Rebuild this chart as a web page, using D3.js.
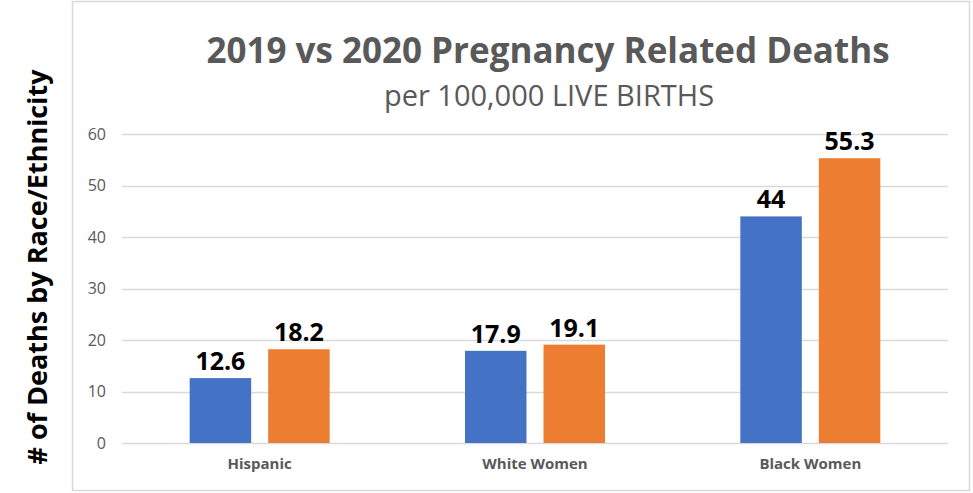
<!DOCTYPE html>
<html>
<head>
<meta charset="utf-8">
<script src="https://d3js.org/d3.v7.min.js"></script>
<style>
  body { margin: 0; background: #fff; }
  svg { display: block; font-family: "Open Sans", sans-serif; }
</style>
</head>
<body>
<div id="chart"></div>
<script>
var categories = ["Hispanic", "White Women", "Black Women"];
var seriesNames = ["2019", "2020"];
var values2019 = [12.6, 17.9, 44];
var values2020 = [18.2, 19.1, 55.3];
var yTicks = [0, 10, 20, 30, 40, 50, 60];
var colors = ["#4472c4", "#ed7d31"];

var width = 973, height = 493;
var plot = { left: 122, right: 948, top: 134, bottom: 443 };

var svg = d3.select("#chart").append("svg")
  .attr("width", width)
  .attr("height", height);

// chart border
svg.append("rect")
  .attr("x", 72.5).attr("y", 1.5)
  .attr("width", 897).attr("height", 489)
  .attr("fill", "none")
  .attr("stroke", "#d9d9d9")
  .attr("stroke-width", 1.5);

var x0 = d3.scaleBand()
  .domain(categories)
  .range([plot.left, plot.right])
  .padding(0);

var x1 = d3.scaleBand()
  .domain(seriesNames)
  .range([0, x0.bandwidth()])
  .paddingInner(0.217)
  .paddingOuter(0.862);

var y = d3.scaleLinear()
  .domain([0, 60])
  .range([plot.bottom, plot.top]);

// gridlines
svg.append("g")
  .selectAll("line")
  .data(yTicks)
  .enter().append("line")
  .attr("x1", plot.left)
  .attr("x2", plot.right)
  .attr("y1", function(d) { return Math.round(y(d)) + 0.5; })
  .attr("y2", function(d) { return Math.round(y(d)) + 0.5; })
  .attr("stroke", "#d9d9d9")
  .attr("stroke-width", 1.5);

// y axis labels
var yAxis = svg.append("g")
  .attr("transform", "translate(" + plot.left + ",0)")
  .call(d3.axisLeft(y).tickValues(yTicks).tickSize(0).tickPadding(16));
yAxis.select(".domain").remove();
yAxis.selectAll("text")
  .attr("font-family", "Open Sans, sans-serif")
  .attr("font-size", "16px")
  .attr("fill", "#595959");

// x axis labels
var xAxis = svg.append("g")
  .attr("transform", "translate(0," + plot.bottom + ")")
  .call(d3.axisBottom(x0).tickSize(0).tickPadding(15));
xAxis.select(".domain").remove();
xAxis.selectAll("text")
  .attr("font-family", "Open Sans, sans-serif")
  .attr("font-size", "15px")
  .attr("font-weight", "bold")
  .attr("fill", "#595959");

// bars
var rows = categories.map(function(c, i) {
  return { cat: c, vals: [
    { s: seriesNames[0], v: values2019[i], c: colors[0] },
    { s: seriesNames[1], v: values2020[i], c: colors[1] }
  ]};
});

var group = svg.append("g").selectAll("g")
  .data(rows)
  .enter().append("g")
  .attr("transform", function(d) { return "translate(" + x0(d.cat) + ",0)"; });

group.selectAll("rect")
  .data(function(d) { return d.vals; })
  .enter().append("rect")
  .attr("x", function(d) { return x1(d.s); })
  .attr("y", function(d) { return y(d.v); })
  .attr("width", x1.bandwidth())
  .attr("height", function(d) { return y(0) - y(d.v); })
  .attr("fill", function(d) { return d.c; });

group.selectAll("text")
  .data(function(d) { return d.vals; })
  .enter().append("text")
  .attr("x", function(d) { return x1(d.s) + x1.bandwidth() / 2; })
  .attr("y", function(d) { return y(d.v) - 8; })
  .attr("text-anchor", "middle")
  .attr("font-size", "25px")
  .attr("font-weight", "bold")
  .attr("fill", "#000")
  .text(function(d) { return d.v; });

// titles
svg.append("text")
  .attr("x", 548).attr("y", 63)
  .attr("text-anchor", "middle")
  .attr("font-size", "35px")
  .attr("font-weight", "bold")
  .attr("fill", "#595959")
  .text("2019 vs 2020 Pregnancy Related Deaths");

svg.append("text")
  .attr("x", 549).attr("y", 106)
  .attr("text-anchor", "middle")
  .attr("font-size", "29px")
  .attr("fill", "#595959")
  .text("per 100,000 LIVE BIRTHS");

svg.append("text")
  .attr("transform", "translate(47,267) rotate(-90)")
  .attr("text-anchor", "middle")
  .attr("font-size", "27px")
  .attr("font-weight", "bold")
  .attr("fill", "#000")
  .text("# of Deaths by Race/Ethnicity");
</script>
</body>
</html>
